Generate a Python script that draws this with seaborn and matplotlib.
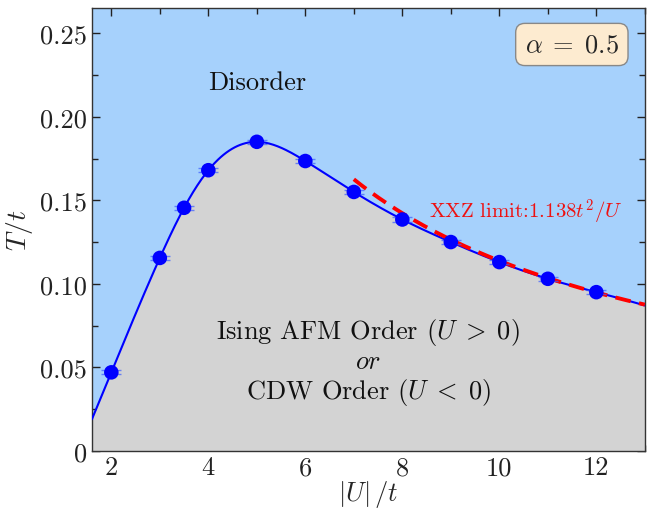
import numpy as np
import pandas as pd
import matplotlib
matplotlib.use("Agg")
import matplotlib.pyplot as plt
import seaborn as sns
from matplotlib.ticker import MultipleLocator, FuncFormatter

# ---- data ----
U_vals = [2, 3, 3.5, 4, 5, 6, 7, 8, 9, 10, 11, 12]
T_vals = [0.047, 0.1155, 0.1455, 0.168, 0.185, 0.1735, 0.155, 0.1385, 0.125, 0.113, 0.103, 0.095]
T_err = [0.0012] * len(U_vals)
xxz_coef = 1.138
xxz_range = [7, 13]
alpha_label = r"$\alpha\;=\;0.5$"

df = pd.DataFrame({"U": U_vals, "T": T_vals, "err": T_err})


def natural_spline(x, y, xs):
    x = np.asarray(x, float); y = np.asarray(y, float)
    n = len(x); h = np.diff(x)
    A = np.zeros((n, n)); b = np.zeros(n)
    A[0, 0] = 1; A[-1, -1] = 1
    for i in range(1, n - 1):
        A[i, i - 1] = h[i - 1]
        A[i, i] = 2 * (h[i - 1] + h[i])
        A[i, i + 1] = h[i]
        b[i] = 3 * ((y[i + 1] - y[i]) / h[i] - (y[i] - y[i - 1]) / h[i - 1])
    c = np.linalg.solve(A, b)
    bc = (y[1:] - y[:-1]) / h - h * (2 * c[:-1] + c[1:]) / 3
    d = (c[1:] - c[:-1]) / (3 * h)
    idx = np.clip(np.searchsorted(x, xs) - 1, 0, n - 2)
    dx = xs - x[idx]
    return y[idx] + bc[idx] * dx + c[idx] * dx ** 2 + d[idx] * dx ** 3


sns.set_style("ticks")
plt.rcParams["font.family"] = "serif"
plt.rcParams["font.serif"] = ["cmr10", "DejaVu Serif"]
plt.rcParams["mathtext.fontset"] = "cm"
plt.rcParams["axes.formatter.use_mathtext"] = True

fig, ax = plt.subplots(figsize=(6.52, 5.10), dpi=100)
fig.subplots_adjust(left=0.141, right=0.989, top=0.982, bottom=0.114)

xmin, xmax = 1.6, 13.0
ymin, ymax = 0.0, 0.265
ax.set_facecolor("#a6d1fc")

xs = np.linspace(xmin, xmax, 400)
ys = natural_spline(df["U"], df["T"], xs)
curve = pd.DataFrame({"U": xs, "T": ys})
ax.fill_between(curve["U"], 0, curve["T"], color="#d3d3d3", zorder=1, linewidth=0)
sns.lineplot(data=curve, x="U", y="T", ax=ax, color="#0000ff", linewidth=1.5, zorder=3, sort=False)

ux = np.linspace(xxz_range[0], xxz_range[1], 200)
xxz = pd.DataFrame({"U": ux, "T": xxz_coef / ux})
sns.lineplot(data=xxz, x="U", y="T", ax=ax, color="#ff0000", linewidth=2.8,
             linestyle=(0, (4, 2.2)), zorder=4)

ax.errorbar(df["U"], df["T"], yerr=df["err"], fmt="none", ecolor="#3a5cff",
            elinewidth=1.0, capsize=7, capthick=1.0, alpha=0.7, zorder=5)
sns.scatterplot(data=df, x="U", y="T", ax=ax, color="#0000ff", s=110,
                edgecolor="none", zorder=6)

ax.set_xlim(xmin, xmax)
ax.set_ylim(ymin, ymax)
ax.xaxis.set_major_locator(MultipleLocator(2))
ax.xaxis.set_minor_locator(MultipleLocator(1))
ax.yaxis.set_major_locator(MultipleLocator(0.05))
ax.yaxis.set_minor_locator(MultipleLocator(0.025))
ax.yaxis.set_major_formatter(FuncFormatter(lambda v, p: "0" if abs(v) < 1e-9 else f"{v:.2f}"))
ax.xaxis.set_major_formatter(FuncFormatter(lambda v, p: f"{v:g}"))
ax.tick_params(which="both", direction="in", top=True, right=True, labelsize=19, colors="#222222")
ax.tick_params(which="major", length=6, width=1)
ax.tick_params(which="minor", length=4, width=1)
for s in ax.spines.values():
    s.set_color("#333333")
    s.set_linewidth(1.0)

ax.set_xlabel(r"$|U|\,/t$", fontsize=19, labelpad=-1)
ax.set_ylabel(r"$T/t$", fontsize=20, labelpad=4)

ax.text(5.0, 0.2205, "Disorder", fontsize=19, ha="center", va="center", color="#111111")
ax.text(7.3, 0.0535, "Ising AFM Order ($U\\;>\\;0$)\n$\\mathit{or}$\nCDW Order ($U\\;<\\;0$)",
        fontsize=19, ha="center", va="center", color="#111111", linespacing=1.15)
ax.text(8.55, 0.1435, r"XXZ limit:1.138$t^2/U$", fontsize=15, color="#ee1111",
        ha="left", va="center")
ax.text(0.868, 0.918, alpha_label, transform=ax.transAxes, fontsize=19,
        ha="center", va="center",
        bbox=dict(boxstyle="round,pad=0.35", facecolor="#fdebd0", edgecolor="#888888", linewidth=1))

fig.savefig("out.png", dpi=100)
